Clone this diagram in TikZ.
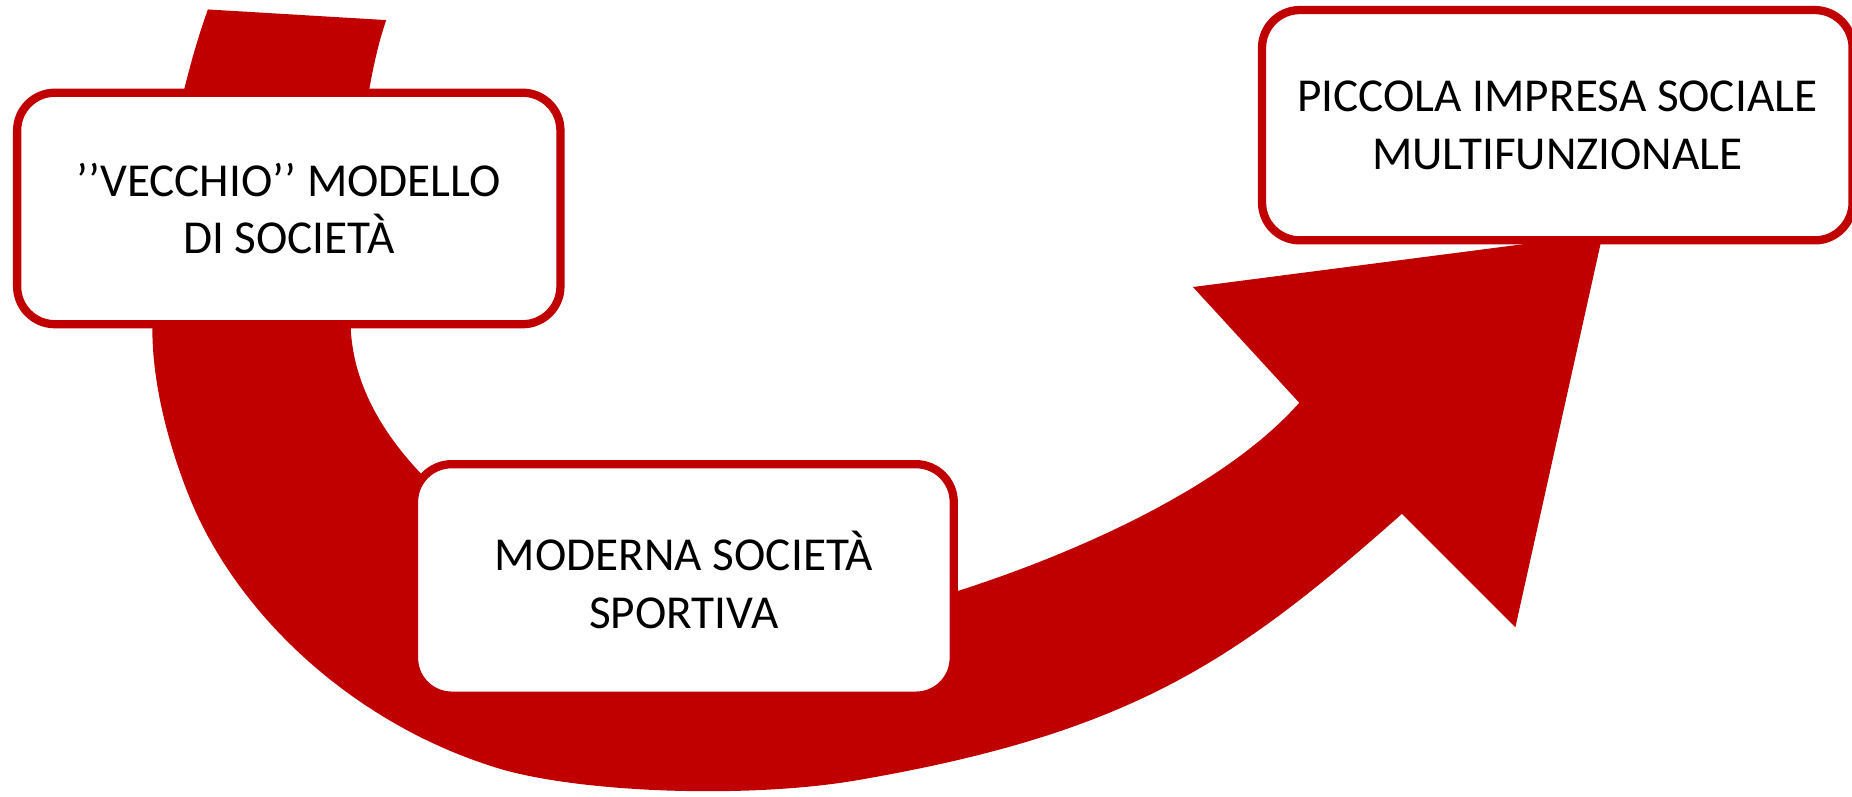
\documentclass[tikz,border=0pt]{standalone}
\usepackage{fontspec}
\setmainfont{Carlito}
\usetikzlibrary{shadows}
\definecolor{arrowred}{RGB}{192,0,0}
\tikzset{
  stagebox/.style={draw=arrowred, line width=7pt, fill=white, rounded corners=32pt,
    inner sep=0pt, align=center, text=black,
    font=\fontsize{40}{49}\selectfont,
    drop shadow={shadow xshift=2pt, shadow yshift=-2pt, opacity=0.25}},
  bigarrow/.style={fill=arrowred}
}
\begin{document}
\begin{tikzpicture}[x=1pt,y=-1pt]
\useasboundingbox (0,0) rectangle (1568,674);
% curved arrow
\fill[bigarrow]
  (327,17) .. controls (305,80) and (297,200) .. (297,279)
  .. controls (300,335) and (335,395) .. (420,455)
  .. controls (520,525) and (700,515) .. (812,500)
  .. controls (890,475) and (1030,420) .. (1100,341)
  -- (1010,243) -- (1357,198) -- (1283,531) -- (1187,435)
  .. controls (1047,559) and (959,620) .. (729,660)
  .. controls (640,676) and (500,672) .. (427,652)
  .. controls (300,615) and (200,520) .. (160,420)
  .. controls (140,370) and (129,320) .. (129,279)
  .. controls (130,190) and (150,80) .. (176,8)
  -- cycle;
% boxes
\node[stagebox, minimum width=460pt, minimum height=196pt] (box1) at (244.5,176.5)
  {’’VECCHIO’’ MODELLO\\DI SOCIETÀ};
\node[stagebox, minimum width=457pt, minimum height=196pt] (box2) at (579,491)
  {MODERNA SOCIETÀ\\SPORTIVA};
\node[stagebox, minimum width=500pt, minimum height=195pt] (box3) at (1318.5,106)
  {PICCOLA IMPRESA SOCIALE\\MULTIFUNZIONALE};
\end{tikzpicture}
\end{document}
